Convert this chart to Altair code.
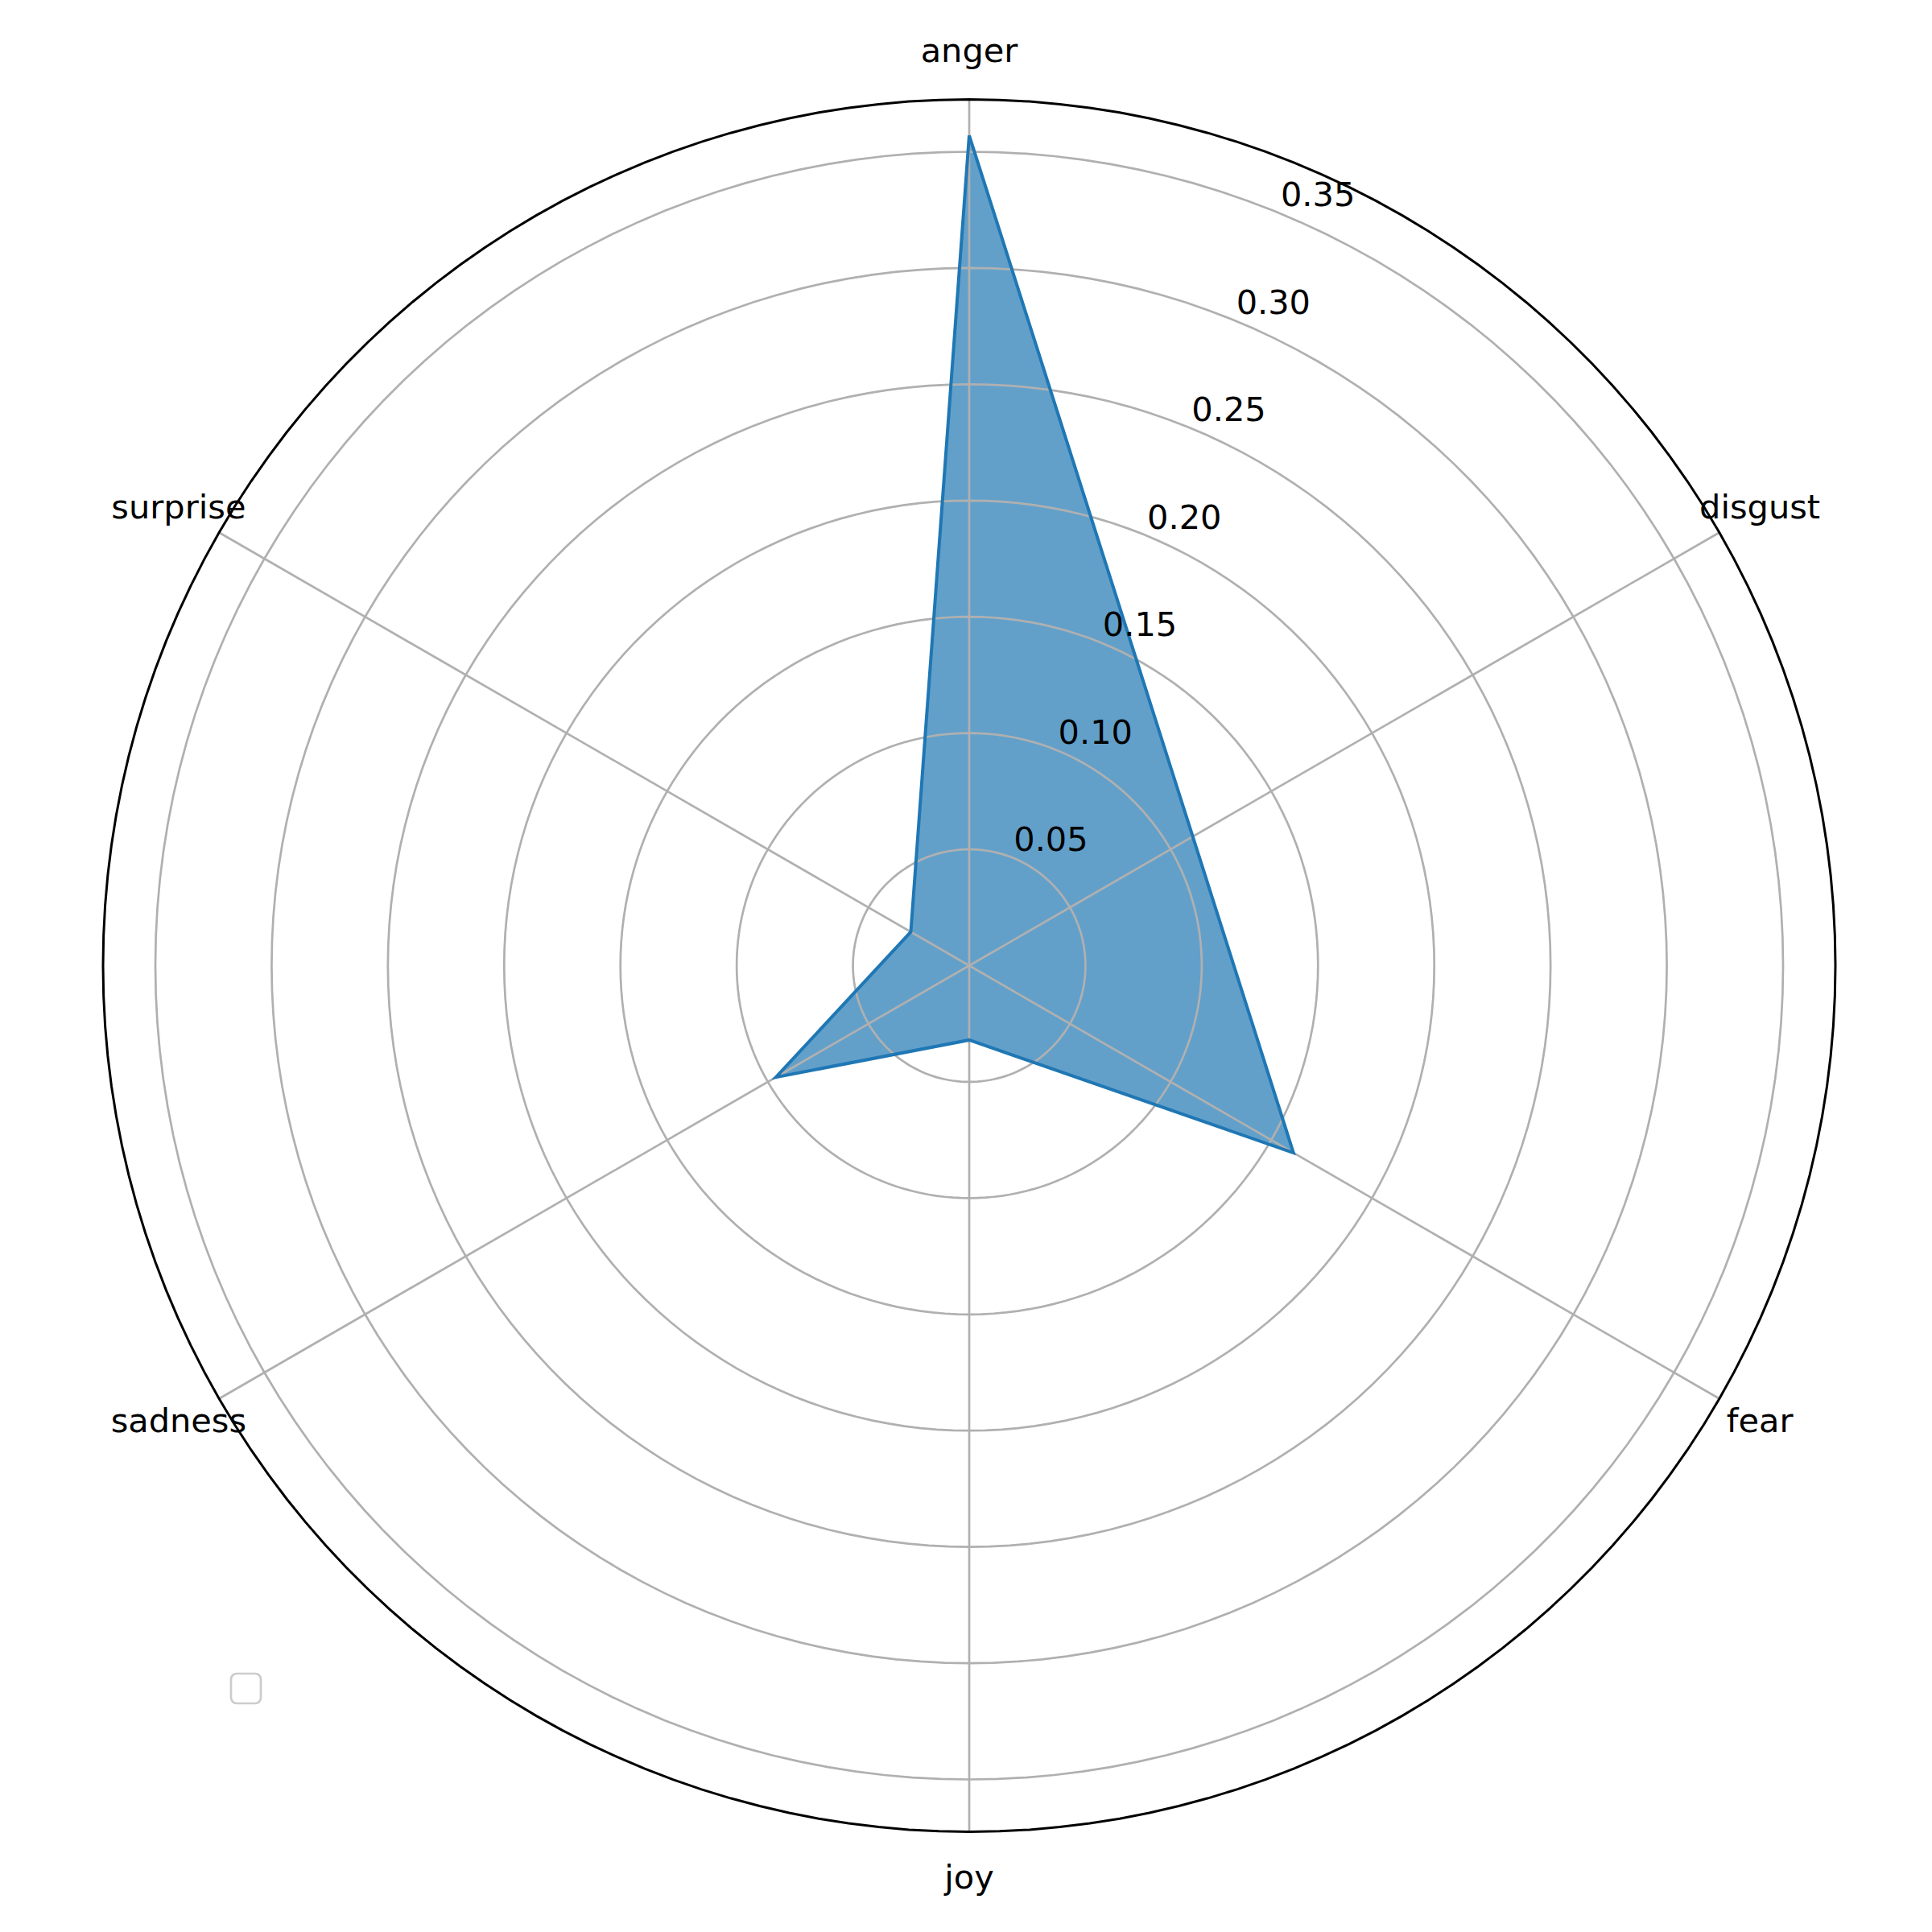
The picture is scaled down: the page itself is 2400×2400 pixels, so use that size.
import altair as alt
import pandas as pd

# ---- data ----
CATEGORIES = ["anger", "disgust", "fear", "joy", "sadness", "surprise"]
VALUES = [0.357, 0.111, 0.161, 0.032, 0.096, 0.029]
RING_TICKS = [0.05, 0.10, 0.15, 0.20, 0.25, 0.30, 0.35]
TICK_LABELS = ["0.05", "0.10", "0.15", "0.20", "0.25", "0.30", "0.35"]
R_MAX = 0.3725          # outer frame of the polar axes
LABEL_R = 0.3926        # radius of category labels
TICK_LABEL_ANGLE = 22.5 # degrees clockwise from top

# ---- layout ----
PX = 2888.6             # pixels per data unit
W, H = 2384, 2383
CX, CY = 1196.0, 1191.5 # pixel position of the polar centre inside the plot area
xs = alt.Scale(domain=[-CX / PX, (W - CX) / PX], nice=False, zero=False)
ys = alt.Scale(domain=[-(H - CY) / PX, CY / PX], nice=False, zero=False)
FONT = "DejaVu Sans"
FS = 41.5

n = len(CATEGORIES)
step = 360 / n

# polygon (closed)
poly = pd.DataFrame({
    "cat": CATEGORIES + [CATEGORIES[0]],
    "value": VALUES + [VALUES[0]],
    "idx": list(range(n + 1)),
})
poly["angle"] = poly["idx"] * step

# rings
deg = list(range(0, 361, 2))
rings = pd.DataFrame([(r, d) for r in RING_TICKS for d in deg], columns=["ring", "deg"])
frame = pd.DataFrame([(R_MAX, d) for d in deg], columns=["ring", "deg"])

spokes = pd.DataFrame({"cat": CATEGORIES, "angle": [i * step for i in range(n)], "r": [R_MAX] * n})
cats = pd.DataFrame({"cat": CATEGORIES, "angle": [i * step for i in range(n)], "r": [LABEL_R] * n})
ticks = pd.DataFrame({"value": RING_TICKS, "label": TICK_LABELS})

def polar(chart, rfield, afield):
    return chart.transform_calculate(
        px=f"datum.{rfield} * sin(datum.{afield} * PI / 180)",
        py=f"datum.{rfield} * cos(datum.{afield} * PI / 180)",
    )

X = alt.X("px:Q", scale=xs, axis=None)
Y = alt.Y("py:Q", scale=ys, axis=None)

fill = polar(alt.Chart(poly), "value", "angle").mark_line(
    fill="#1f77b4", fillOpacity=0.7, strokeOpacity=0, strokeWidth=0
).encode(x=X, y=Y, order=alt.Order("idx:Q"))

grid = polar(alt.Chart(rings), "ring", "deg").mark_line(
    color="#b0b0b0", strokeWidth=2.7
).encode(x=X, y=Y, detail="ring:N", order=alt.Order("deg:Q"))

spoke = alt.Chart(spokes).transform_calculate(
    x0="0", y0="0",
    px="datum.r * sin(datum.angle * PI / 180)",
    py="datum.r * cos(datum.angle * PI / 180)",
).mark_rule(color="#b0b0b0", strokeWidth=2.7).encode(
    x=alt.X("x0:Q", scale=xs, axis=None), y=alt.Y("y0:Q", scale=ys, axis=None),
    x2="px:Q", y2="py:Q",
)

outline = polar(alt.Chart(poly), "value", "angle").mark_line(
    color="#1f77b4", strokeWidth=4, strokeJoin="miter"
).encode(x=X, y=Y, order=alt.Order("idx:Q"))

frame_line = polar(alt.Chart(frame), "ring", "deg").mark_line(
    color="black", strokeWidth=3
).encode(x=X, y=Y, order=alt.Order("deg:Q"))

cat_text = polar(alt.Chart(cats), "r", "angle").mark_text(
    font=FONT, fontSize=FS, color="black", align="center", baseline="middle"
).encode(x=X, y=Y, text="cat:N")

tick_text = alt.Chart(ticks).transform_calculate(
    px=f"datum.value * sin({TICK_LABEL_ANGLE} * PI / 180)",
    py=f"datum.value * cos({TICK_LABEL_ANGLE} * PI / 180)",
).mark_text(
    font=FONT, fontSize=FS, color="black", align="left", baseline="bottom"
).encode(x=X, y=Y, text="label:N")

legend_box = alt.Chart(pd.DataFrame({"a": [0]})).mark_rect(
    fill="white", stroke="#cccccc", strokeWidth=2.7, cornerRadius=7
).encode(x=alt.value(279), x2=alt.value(316), y=alt.value(2071), y2=alt.value(2108))

chart = alt.layer(
    fill, grid, spoke, outline, frame_line, tick_text, cat_text, legend_box
).properties(
    width=W, height=H, autosize=alt.AutoSizeParams(type="none"), padding=0
).configure_view(stroke=None)

chart.save("out.html", embed_options={"renderer": "svg", "actions": False})
